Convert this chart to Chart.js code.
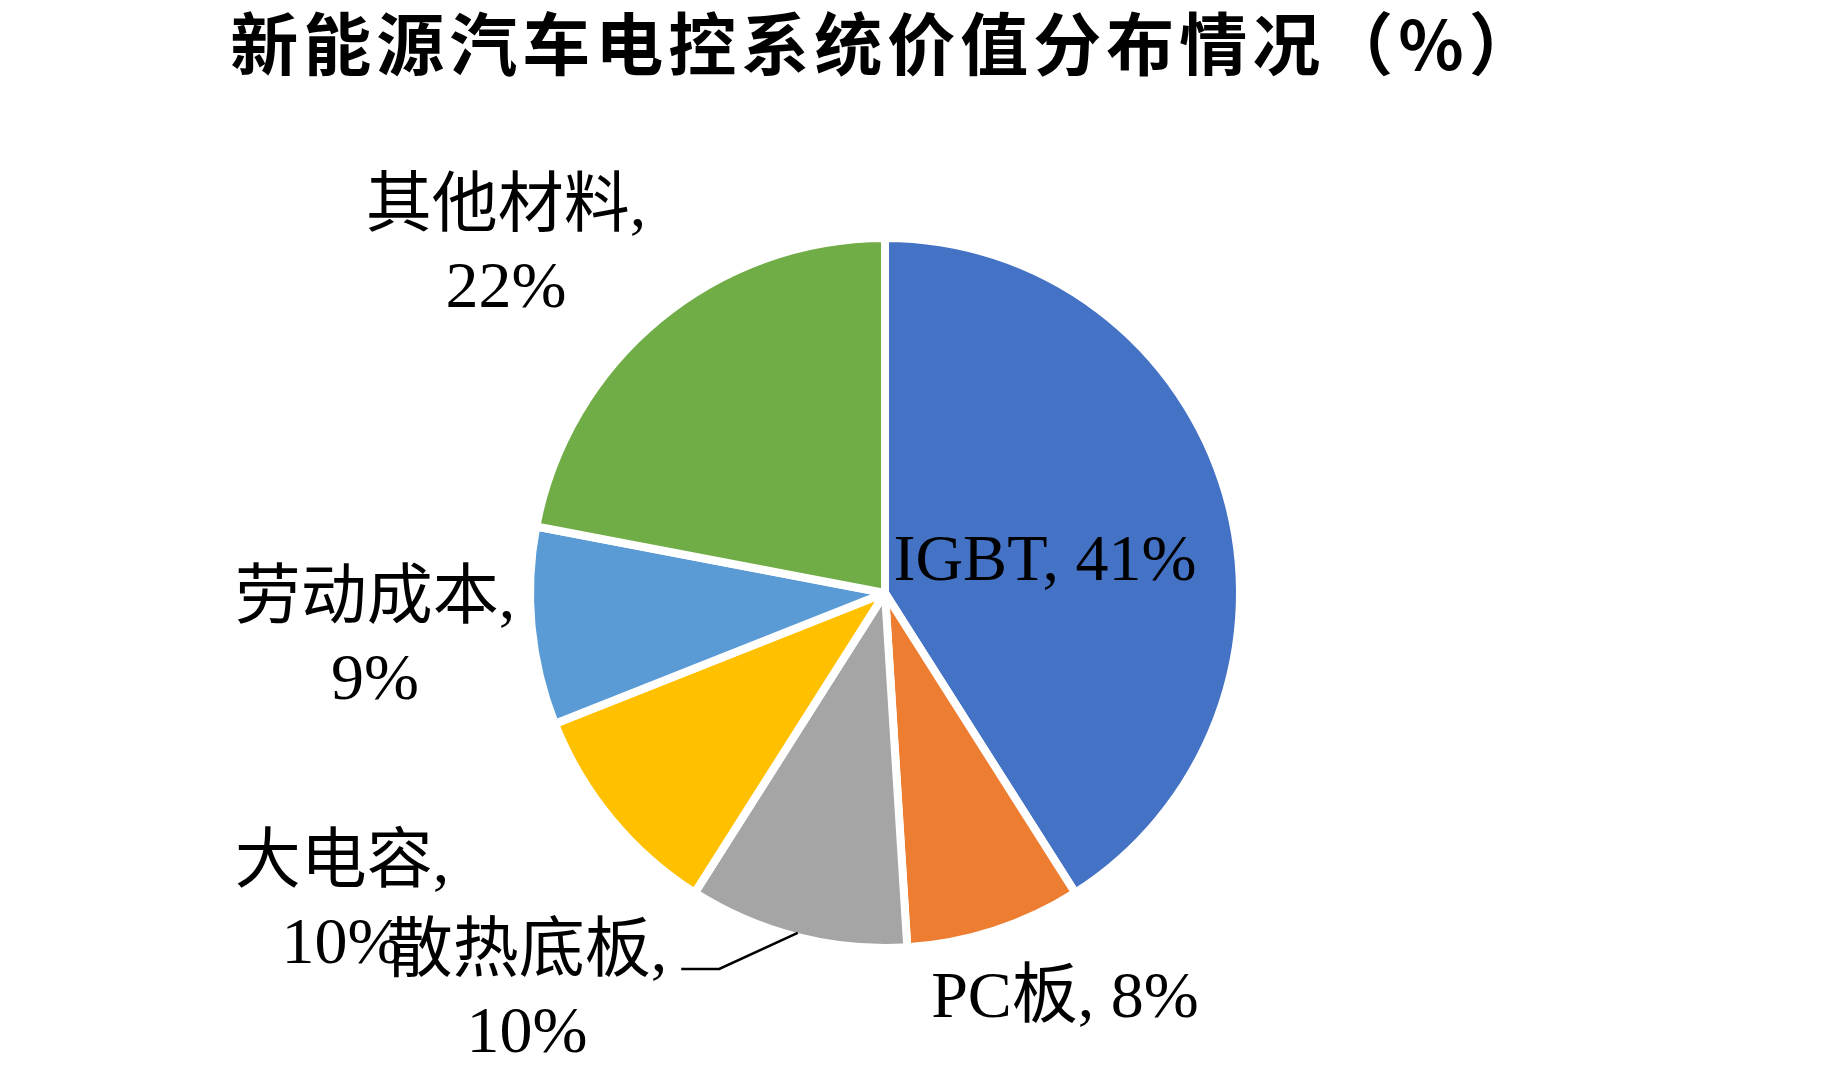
<!DOCTYPE html>
<html>
<head>
<meta charset="utf-8">
<script src="https://cdn.jsdelivr.net/npm/chart.js@4.4.1/dist/chart.umd.min.js"></script>
<style>
html, body { margin: 0; padding: 0; background: #ffffff; }
#wrap { width: 1839px; height: 1080px; position: relative; }
</style>
</head>
<body>
<div id="wrap"><canvas id="c" width="1839" height="1080"></canvas></div>
<script>
// ---- data ----
const titleText = '新能源汽车电控系统价值分布情况（%）';
const categories = ['IGBT', 'PC板', '散热底板', '大电容', '劳动成本', '其他材料'];
const values = [41, 8, 10, 10, 9, 22];
const colors = ['#4472C4', '#ED7D31', '#A5A5A5', '#FFC000', '#5B9BD5', '#70AD47'];

// ---- label layout (offsets from pie centre, px) ----
const labelLayout = [
  { dx: 160, dy: -30, twoLine: false },
  { dx: 180, dy: 407, twoLine: false },
  { dx: -358, dy: 361, twoLine: true, leader: true },
  { dx: -543, dy: 272, twoLine: true },
  { dx: -510, dy: 8, twoLine: true },
  { dx: -379, dy: -384, twoLine: true }
];
const lineGap = 81;
const labelFont = "66px 'Liberation Serif', 'Noto Sans CJK SC'";

const labelPlugin = {
  id: 'pieLabels',
  afterDatasetsDraw(chart) {
    const ctx = chart.ctx;
    const meta = chart.getDatasetMeta(0);
    const ds = chart.data.datasets[0];
    ctx.save();
    ctx.fillStyle = '#000000';
    ctx.textAlign = 'center';
    ctx.textBaseline = 'middle';
    ctx.font = labelFont;
    meta.data.forEach((arc, i) => {
      const lay = labelLayout[i];
      const cx = arc.x, cy = arc.y;
      const name = chart.data.labels[i];
      const val = ds.data[i] + '%';
      const x = cx + lay.dx, y = cy + lay.dy;
      if (lay.twoLine) {
        ctx.fillText(name + ',', x, y);
        ctx.fillText(val, x, y + lineGap);
      } else {
        ctx.fillText(name + ', ' + val, x, y);
      }
      if (lay.leader) {
        const mid = (arc.startAngle + arc.endAngle) / 2;
        const r = arc.outerRadius - 4;
        const ex = cx + Math.cos(mid) * r;
        const ey = cy + Math.sin(mid) * r;
        const w = ctx.measureText(name + ',').width;
        const sx = x + w / 2 + 14;
        const sy = y + 15;
        ctx.beginPath();
        ctx.strokeStyle = '#000000';
        ctx.lineWidth = 2.5;
        ctx.moveTo(sx, sy);
        ctx.lineTo(sx + 38, sy);
        ctx.lineTo(ex, ey);
        ctx.stroke();
      }
    });
    // title
    ctx.font = "bold 68px 'Noto Sans CJK SC'";
    if ('letterSpacing' in ctx) ctx.letterSpacing = '5px';
    ctx.fillText(titleText, 886, 44);
    ctx.restore();
  }
};

new Chart(document.getElementById('c'), {
  type: 'pie',
  data: {
    labels: categories,
    datasets: [{
      data: values,
      backgroundColor: colors,
      borderColor: '#ffffff',
      borderWidth: 8,
      borderJoinStyle: 'round',
      radius: 355
    }]
  },
  options: {
    responsive: false,
    devicePixelRatio: 1,
    animation: false,
    layout: { padding: { left: 0, right: 69, top: 106, bottom: 0 } },
    plugins: {
      legend: { display: false },
      title: { display: false },
      tooltip: { enabled: false }
    }
  },
  plugins: [labelPlugin]
});
</script>
</body>
</html>
